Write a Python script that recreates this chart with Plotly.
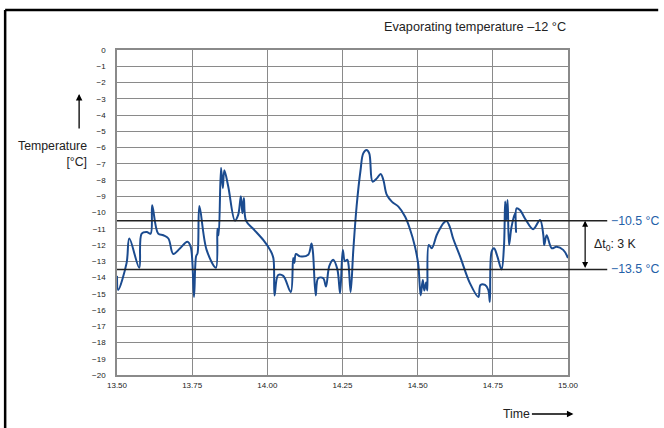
import plotly.graph_objects as go

# Data
time = [13.500, 13.504, 13.532, 13.541, 13.574, 13.582, 13.599, 13.612, 13.617, 13.637,
        13.654, 13.671, 13.687, 13.710, 13.734, 13.745, 13.756, 13.763, 13.768, 13.774,
        13.798, 13.829, 13.834, 13.838, 13.846, 13.852, 13.857, 13.870, 13.892, 13.903,
        13.912, 13.917, 13.922, 13.929, 13.953, 13.987, 14.009, 14.020, 14.024, 14.036,
        14.053, 14.078, 14.086, 14.090, 14.095, 14.109, 14.136, 14.147, 14.152, 14.161,
        14.169, 14.186, 14.195, 14.206, 14.219, 14.233, 14.242, 14.251, 14.258, 14.266,
        14.270, 14.277, 14.286, 14.297, 14.310, 14.319, 14.330, 14.339, 14.350, 14.364,
        14.377, 14.386, 14.397, 14.414, 14.436, 14.458, 14.474, 14.491, 14.502, 14.510,
        14.517, 14.522, 14.528, 14.532, 14.537, 14.547, 14.563, 14.574, 14.585, 14.596,
        14.607, 14.618, 14.641, 14.674, 14.702, 14.709, 14.724, 14.735, 14.740, 14.746,
        14.754, 14.765, 14.779, 14.787, 14.791, 14.794, 14.799, 14.804, 14.812, 14.824,
        14.827, 14.829, 14.840, 14.860, 14.884, 14.907, 14.918, 14.921, 14.929, 14.946,
        14.962, 14.984, 15.000]
temperature = [-13.9, -14.77, -13.1, -11.6, -13.4, -11.3, -11.2, -11.3, -9.55, -11.3,
               -11.4, -11.6, -12.55, -12.2, -11.8, -12.1, -15.2, -12.7, -12.5, -9.6,
               -12.3, -13.4, -11.0, -11.4, -7.25, -8.5, -7.4, -8.4, -10.5, -10.15,
               -9.0, -10.05, -9.1, -10.5, -11.0, -11.7, -12.3, -12.8, -15.1, -13.85,
               -13.9, -14.9, -12.8, -13.1, -12.55, -12.7, -12.6, -11.9, -12.5, -15.1,
               -14.05, -14.05, -14.55, -13.3, -12.9, -13.5, -14.97, -12.3, -13.0, -12.9,
               -13.2, -14.9, -12.3, -9.6, -7.4, -6.36, -6.15, -6.36, -8.1, -7.9,
               -7.63, -8.0, -8.9, -9.33, -9.64, -10.25, -11.0, -12.1, -13.2, -15.1,
               -14.15, -14.8, -14.3, -14.8, -12.0, -12.2, -11.4, -11.0, -10.67, -10.53,
               -10.9, -11.6, -12.7, -14.36, -15.2, -14.46, -14.46, -14.77, -15.5, -12.4,
               -12.2, -12.7, -13.5, -12.1, -9.33, -10.5, -9.23, -12.0, -10.9, -10.05,
               -11.2, -9.74, -9.85, -10.46, -11.03, -10.46, -11.4, -12.0, -11.4, -12.2,
               -12.1, -12.3, -12.8]

x_ticks = [13.50, 13.75, 14.00, 14.25, 14.50, 14.75, 15.00]
x_tick_labels = ["13.50", "13.75", "14.00", "14.25", "14.50", "14.75", "15.00"]
y_ticks = list(range(0, -21, -1))
y_tick_labels = ["0"] + ["\u2212" + str(-v) for v in y_ticks[1:]]
upper_limit = -10.5
lower_limit = -13.5
title_text = "Evaporating temperature \u201312 \u00b0C"

FONT = "Liberation Sans, Arial, sans-serif"
BLUE_LINE = "#1b4b8f"
BLUE_TEXT = "#2360a8"
GRID = "#8a8a8a"

fig = go.Figure()
fig.add_trace(go.Scatter(
    x=time, y=temperature, mode="lines",
    line=dict(color=BLUE_LINE, width=2, shape="spline", smoothing=1.0),
    hoverinfo="skip", showlegend=False,
))

shapes = []
for lim in (upper_limit, lower_limit):
    shapes.append(dict(type="line", xref="paper", yref="y", x0=0, x1=1.087,
                       y0=lim, y1=lim, line=dict(color="#222222", width=1.5), layer="above"))
# outer frame (top and left)
shapes.append(dict(type="line", xref="paper", yref="paper", x0=-0.248, x1=1.2,
                   y0=1.123, y1=1.123, line=dict(color="black", width=2.5)))
shapes.append(dict(type="line", xref="paper", yref="paper", x0=-0.248, x1=-0.248,
                   y0=1.123, y1=-0.2, line=dict(color="black", width=2.5)))

annotations = [
    dict(text=title_text, xref="paper", yref="paper", x=1.0, y=1.072,
         xanchor="right", yanchor="middle", showarrow=False,
         font=dict(family=FONT, size=12.7, color="#222222")),
    dict(text="Temperature<br>[°C]", xref="paper", yref="paper", x=-0.063, y=0.68,
         xanchor="right", yanchor="middle", align="right", showarrow=False,
         font=dict(family=FONT, size=12.3, color="#222222")),
    dict(text="", xref="paper", yref="paper", x=-0.084, y=0.865, ax=0, ay=36,
         showarrow=True, arrowhead=2, arrowsize=1, arrowwidth=1.3, arrowcolor="black"),
    dict(text="Time", xref="paper", yref="paper", x=0.92, y=-0.12,
         xanchor="right", yanchor="middle", showarrow=False,
         font=dict(family=FONT, size=12.3, color="#222222")),
    dict(text="", xref="paper", yref="paper", x=1.012, y=-0.12, ax=-43, ay=0,
         showarrow=True, arrowhead=2, arrowsize=1, arrowwidth=1.3, arrowcolor="black"),
    dict(text="", xref="paper", yref="y", x=1.038, y=upper_limit,
         axref="pixel", ayref="y", ax=0, ay=lower_limit,
         showarrow=True, arrowhead=2, startarrowhead=2, arrowside="end+start",
         arrowsize=1, arrowwidth=1.2, arrowcolor="black"),
    dict(text="\u0394t<sub>0</sub>: 3 K", xref="paper", yref="y", x=1.054, y=-12.0,
         xanchor="left", yanchor="middle", showarrow=False,
         font=dict(family=FONT, size=12.3, color="#222222")),
    dict(text="\u221210.5 °C", xref="paper", yref="y", x=1.09, y=upper_limit,
         xanchor="left", yanchor="middle", showarrow=False,
         font=dict(family=FONT, size=12.3, color=BLUE_TEXT)),
    dict(text="\u221213.5 °C", xref="paper", yref="y", x=1.09, y=lower_limit,
         xanchor="left", yanchor="middle", showarrow=False,
         font=dict(family=FONT, size=12.3, color=BLUE_TEXT)),
]

fig.update_layout(
    width=664, height=428,
    margin=dict(l=117, r=96, t=50, b=53),
    paper_bgcolor="white", plot_bgcolor="white",
    font=dict(family=FONT, color="#222222"),
    shapes=shapes, annotations=annotations, showlegend=False,
)
fig.update_xaxes(
    range=[13.5, 15.0], tickvals=x_ticks, ticktext=x_tick_labels,
    showgrid=True, gridcolor=GRID, gridwidth=1,
    showline=True, linecolor=GRID, linewidth=1.5, mirror=True,
    ticks="outside", ticklen=2, tickcolor="rgba(0,0,0,0)",
    tickfont=dict(family=FONT, size=8, color="#222222"), zeroline=False,
)
fig.update_yaxes(
    range=[-20, 0], tickvals=y_ticks, ticktext=y_tick_labels,
    showgrid=True, gridcolor=GRID, gridwidth=1,
    showline=True, linecolor=GRID, linewidth=1.5, mirror=True,
    ticks="outside", ticklen=8, tickcolor="rgba(0,0,0,0)",
    tickfont=dict(family=FONT, size=8, color="#222222"), zeroline=False,
)

fig.write_html("out.html", config={"displayModeBar": False},
               post_script="document.body.style.margin='0';document.body.style.overflow='hidden';")
